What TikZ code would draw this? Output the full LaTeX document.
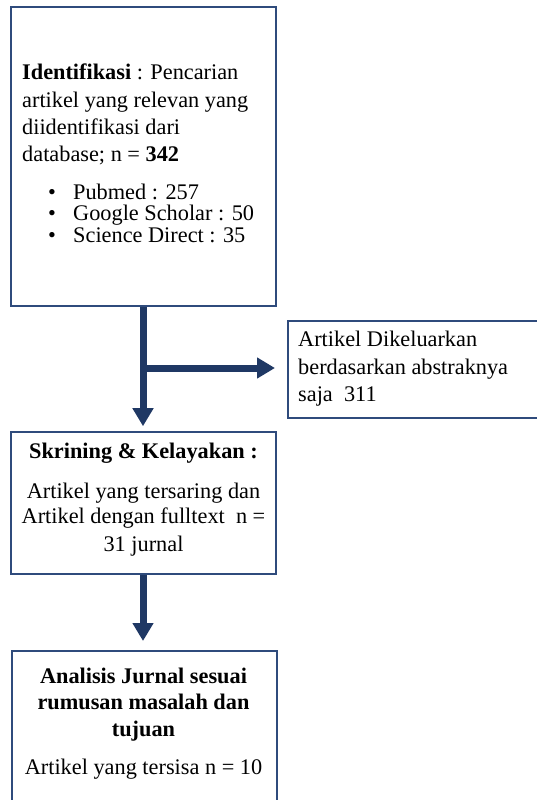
\documentclass[tikz,border=0pt]{standalone}
\usepackage{fontspec}
\setmainfont{Liberation Serif}
\usetikzlibrary{arrows.meta}
\definecolor{navy}{HTML}{1F3864}
\definecolor{boxline}{HTML}{2F4B7C}
\begin{document}
\begin{tikzpicture}[x=1pt,y=1pt,
  box/.style={draw=boxline, line width=1.6pt, rectangle, inner sep=0pt},
  flow/.style={draw=navy, line width=7pt, -{Triangle[width=20pt,length=18pt]}},
  txt/.style={inner sep=0pt, font=\fontsize{22.3}{27}\selectfont},
  every node/.style={text=black}]
\clip (0,0) rectangle (537,-800);
\fill[white] (0,0) rectangle (537,-800);
% boxes
\node[box, minimum width=265pt, minimum height=299pt] (b1) at (143.5,-156.5) {};
\node[box, minimum width=270pt, minimum height=97pt, anchor=north west] (b4) at (287,-320) {};
\node[box, minimum width=265pt, minimum height=142pt] (b2) at (143.5,-503) {};
\node[box, minimum width=265pt, minimum height=170pt, anchor=north west] (b3) at (11,-650) {};
% texts box 1
\node[txt, anchor=base west] (t1a) at (22,-80) {\textbf{Identifikasi} : Pencarian};
\node[txt, anchor=base west] (t1b) at (22,-107) {artikel yang relevan yang};
\node[txt, anchor=base west] (t1c) at (22,-134) {diidentifikasi dari};
\node[txt, anchor=base west] (t1d) at (22,-161) {database; n = \textbf{342}};
\node[txt, anchor=base] (u1) at (52,-199) {•};
\node[txt, anchor=base] (u2) at (52,-220) {•};
\node[txt, anchor=base] (u3) at (52,-242) {•};
\node[txt, anchor=base west] (l1) at (73,-199) {Pubmed : 257};
\node[txt, anchor=base west] (l2) at (73,-220) {Google Scholar : 50};
\node[txt, anchor=base west] (l3) at (73,-242) {Science Direct : 35};
% right box
\node[txt, anchor=base west] (t4a) at (298,-346) {Artikel Dikeluarkan};
\node[txt, anchor=base west] (t4b) at (298,-374) {berdasarkan abstraknya};
\node[txt, anchor=base west] (t4c) at (298,-401) {saja\ \ 311};
% box 2
\node[txt, anchor=base] (t2a) at (143.5,-458) {\textbf{Skrining \& Kelayakan :}};
\node[txt, anchor=base] (t2b) at (143.5,-498) {Artikel yang tersaring dan};
\node[txt, anchor=base] (t2c) at (143.5,-523) {Artikel dengan fulltext\ \ n =};
\node[txt, anchor=base] (t2d) at (143.5,-551) {31 jurnal};
% box 3
\node[txt, anchor=base] (t3a) at (143.5,-683) {\textbf{Analisis Jurnal sesuai}};
\node[txt, anchor=base] (t3b) at (143.5,-709) {\textbf{rumusan masalah dan}};
\node[txt, anchor=base] (t3c) at (143.5,-736) {\textbf{tujuan}};
\node[txt, anchor=base] (t3d) at (143.5,-774) {Artikel yang tersisa n = 10};
% connectors
\coordinate (br) at (143,-368);
\draw[flow, shorten >=5pt] (b1.south -| br) -- (b2.north -| br);
\draw[flow, shorten >=12pt] (br) -- (br -| b4.west);
\draw[flow, shorten >=9pt] (b2.south -| br) -- (b3.north -| br);
\end{tikzpicture}
\end{document}
